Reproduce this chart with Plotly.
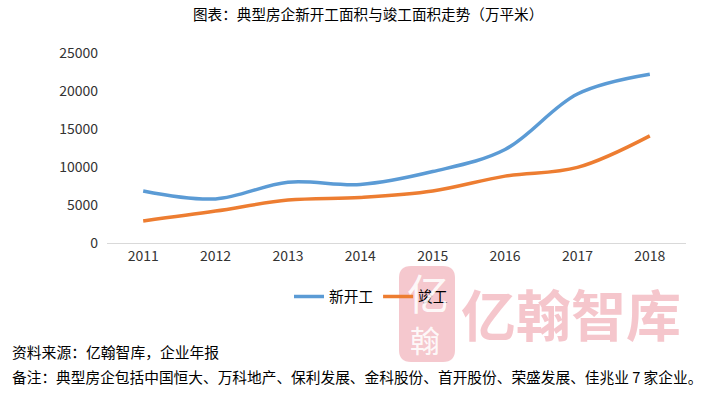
import plotly.graph_objects as go

years = ["2011", "2012", "2013", "2014", "2015", "2016", "2017", "2018"]
new_start = [6850, 5800, 8000, 7700, 9400, 12300, 19600, 22200]
completed = [2900, 4200, 5650, 6000, 6850, 8800, 9950, 14100]
y_ticks = [0, 5000, 10000, 15000, 20000, 25000]

W, H = 720, 397
L, R, T, B = 107, 686, 53, 243
FONT = "Noto Sans CJK SC, Microsoft YaHei, sans-serif"


def px(x):
    return (x - L) / (R - L)


def py(y):
    return (B - y) / (B - T)


fig = go.Figure()
fig.add_trace(go.Scatter(x=years, y=new_start, name="新开工", mode="lines",
                         line=dict(color="#5B9BD5", width=3.5, shape="spline", smoothing=1.0)))
fig.add_trace(go.Scatter(x=years, y=completed, name="竣工", mode="lines",
                         line=dict(color="#ED7D31", width=3.5, shape="spline", smoothing=1.0)))

# watermark stamp (rounded blob)
x0, x1, y0, y1 = px(399), px(455), py(362), py(266)
rx, ry = px(411) - px(399), py(266) - py(278)
path = (f"M {x0+rx},{y1} L {x1-rx},{y1} Q {x1},{y1} {x1},{y1-ry} "
        f"L {x1},{y0+ry} Q {x1},{y0} {x1-rx},{y0} L {x0+rx},{y0} "
        f"Q {x0},{y0} {x0},{y0+ry} L {x0},{y1-ry} Q {x0},{y1} {x0+rx},{y1} Z")
fig.add_shape(type="path", xref="paper", yref="paper", path=path,
              fillcolor="rgba(240,170,180,0.65)", line=dict(width=0), layer="below")
fig.add_annotation(text="亿", xref="paper", yref="paper", x=px(428), y=py(291),
                   xanchor="center", yanchor="middle", showarrow=False,
                   font=dict(family=FONT, size=42, color="rgba(255,255,255,0.9)"))
fig.add_annotation(text="翰", xref="paper", yref="paper", x=px(425), y=py(339),
                   xanchor="center", yanchor="middle", showarrow=False,
                   font=dict(family=FONT, size=30, color="rgba(255,255,255,0.9)"))
fig.add_annotation(text="<b>亿翰智库</b>", xref="paper", yref="paper", x=px(571), y=py(312),
                   xanchor="center", yanchor="middle", showarrow=False,
                   font=dict(family=FONT, size=55, color="rgba(238,160,170,0.6)"))

fig.add_annotation(text="图表：典型房企新开工面积与竣工面积走势（万平米）", xref="paper", yref="paper",
                   x=px(368), y=py(13), xanchor="center", yanchor="middle", showarrow=False,
                   font=dict(family=FONT, size=14.6, color="#000000"))
fig.add_annotation(text="资料来源：亿翰智库，企业年报", xref="paper", yref="paper",
                   x=px(10), y=py(351), xanchor="left", yanchor="middle", showarrow=False,
                   font=dict(family=FONT, size=14.8, color="#000000"))
fig.add_annotation(text="备注：典型房企包括中国恒大、万科地产、保利发展、金科股份、首开股份、荣盛发展、佳兆业 7 家企业。",
                   xref="paper", yref="paper",
                   x=px(10), y=py(376), xanchor="left", yanchor="middle", showarrow=False,
                   font=dict(family=FONT, size=14.7, color="#000000"))

fig.update_layout(
    width=W, height=H,
    margin=dict(l=L, r=W - R, t=T, b=H - B),
    paper_bgcolor="white", plot_bgcolor="white",
    font=dict(family=FONT, size=14, color="#333333"),
    showlegend=True,
    legend=dict(orientation="h", x=px(289), y=py(297), xanchor="left", yanchor="middle",
                font=dict(family=FONT, size=14.7, color="#000000"),
                bgcolor="rgba(0,0,0,0)", itemwidth=30, tracegroupgap=0),
    xaxis=dict(range=[-0.5, 7.5], showgrid=False, showline=True, linecolor="#D9D9D9",
               linewidth=1, ticks="", tickfont=dict(size=14, color="#333333"), fixedrange=True),
    yaxis=dict(range=[0, 25000], tickvals=y_ticks, tickformat="d", showgrid=False, zeroline=False,
               showline=False, ticks="", ticklabelstandoff=8,
               tickfont=dict(size=14, color="#333333"), fixedrange=True),
)

fig.write_html("out.html", config={"displayModeBar": False},
               post_script="document.body.style.margin='0';document.body.style.overflow='hidden';")
